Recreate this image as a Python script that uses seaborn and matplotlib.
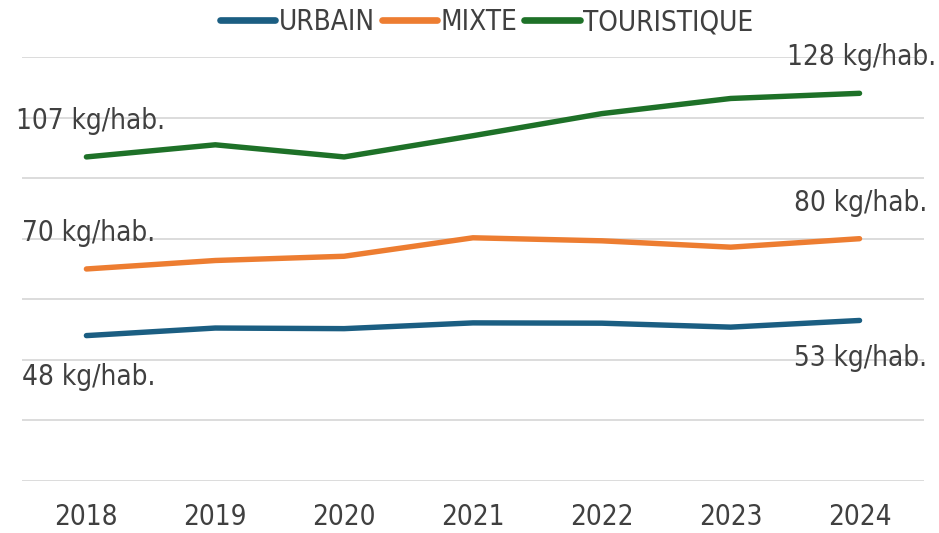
import pandas as pd
import matplotlib.pyplot as plt
import seaborn as sns

# Données (kg/hab.)
annees = ["2018", "2019", "2020", "2021", "2022", "2023", "2024"]
urbain = [48, 50.5, 50.3, 52.2, 52.1, 50.8, 53]
mixte = [70, 72.8, 74.2, 80.3, 79.3, 77.2, 80]
touristique = [107, 111, 107, 114, 121.3, 126.3, 128]
series = ["URBAIN", "MIXTE", "TOURISTIQUE"]
couleurs = ["#1B5E82", "#ED7D31", "#1E7128"]

df = pd.DataFrame({"annee": annees * 3,
                   "valeur": urbain + mixte + touristique,
                   "type": [s for s in series for _ in annees]})

sns.set_style("white")
plt.rcParams['font.family'] = ['DejaVu Sans']
plt.rcParams['font.stretch'] = 'condensed'
texte = "#404040"

fig = plt.figure(figsize=(9.39, 5.33), dpi=100)
ax = fig.add_axes([0.0234, 0.0976, 0.9606, 0.7955])

sns.lineplot(data=df, x="annee", y="valeur", hue="type", palette=couleurs,
             linewidth=3.9, sort=False, ax=ax)

ax.set_ylim(0, 140)
ax.set_xlim(-0.5, 6.5)
ax.set_yticks(range(0, 141, 20))
ax.yaxis.grid(True, color="#d9d9d9", linewidth=1.3)
ax.set_axisbelow(True)
ax.tick_params(axis="y", left=False, labelleft=False)
ax.tick_params(axis="x", bottom=False, labelsize=20, labelcolor=texte, pad=12)
for s in ax.spines.values():
    s.set_visible(False)
ax.set_xlabel("")
ax.set_ylabel("")

# Étiquettes de première et dernière valeur
etiquettes = [(0, touristique[0], 4, 36), (0, mixte[0], 2, 36), (0, urbain[0], 2, -41),
              (6, touristique[-1], 2, 36), (6, mixte[-1], 1, 36), (6, urbain[-1], 1, -38)]
for x, v, dx, dy in etiquettes:
    ax.annotate(f"{v:.0f} kg/hab.", xy=(x, v), xytext=(dx, dy), textcoords="offset pixels",
                ha="center", va="center", fontsize=20, color=texte)

leg = ax.legend(loc="center", bbox_to_anchor=(0.515, 1.082), ncol=3, frameon=False,
                fontsize=20, handlelength=2.0, handletextpad=0.12, columnspacing=0.25,
                labelcolor=texte)
for h in leg.get_lines():
    h.set_linewidth(4.8)
    h.set_solid_capstyle("round")

fig.savefig("out.png", dpi=100)
